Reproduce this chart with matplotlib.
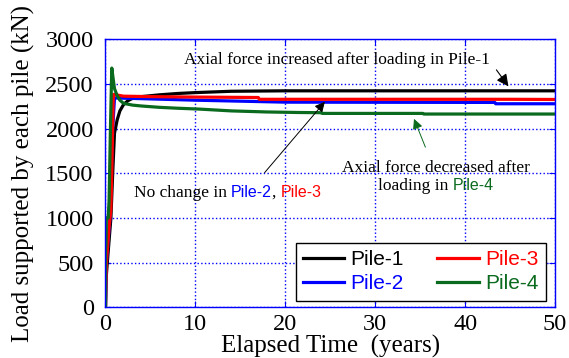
import matplotlib
matplotlib.use('Agg')
import matplotlib.pyplot as plt
from matplotlib.offsetbox import TextArea, HPacker, AnnotationBbox

# Elapsed time (years) and axial load (kN) for each pile
t_pile1 = [0, 0.05, 0.2, 0.4, 0.6, 0.8, 1.0, 1.3, 1.6, 2.0, 2.5, 3.0, 4.0, 6.0, 8.0, 10.0, 14.0, 20.0, 50.0]
p_pile1 = [0, 300, 500, 750, 1000, 1500, 1950, 2100, 2200, 2270, 2315, 2340, 2360, 2380, 2395, 2405, 2420, 2425, 2425]

t_pile2 = [0, 0.1, 0.5, 0.8, 1.0, 3.0, 10.0, 20.0, 43.3, 43.4, 50.0]
p_pile2 = [0, 500, 1000, 2000, 2345, 2340, 2320, 2298, 2295, 2280, 2280]

t_pile3 = [0, 0.1, 0.4, 0.6, 0.7, 0.85, 0.9, 2.0, 5.0, 10.0, 17.0, 17.1, 45.0, 50.0]
p_pile3 = [0, 500, 900, 1100, 1500, 2300, 2385, 2365, 2360, 2355, 2350, 2330, 2330, 2328]

t_pile4 = [0, 0.01, 0.05, 0.1, 0.3, 0.4, 0.55, 0.7, 0.8, 1.0, 1.3, 1.6, 2.0, 3.0, 4.0, 6.0, 8.0,
           10.5, 14.0, 18.0, 21.6, 24.0, 24.1, 35.3, 35.4, 50.0]
p_pile4 = [0, 650, 700, 1000, 1000, 1200, 2000, 2680, 2600, 2450, 2370, 2320, 2285, 2265, 2255, 2240, 2230,
           2220, 2200, 2188, 2182, 2180, 2172, 2172, 2165, 2165]

x_ticks = [0, 10, 20, 30, 40, 50]
y_ticks = [0, 500, 1000, 1500, 2000, 2500, 3000]

GREEN = '#0a6a1e'
serif = 'Liberation Serif'
sans = 'Liberation Sans'

fig = plt.figure(figsize=(5.69, 3.58), dpi=100)
ax = fig.add_axes([0.1854, 0.1416, 0.79, 0.7481])

ax.plot(t_pile1, p_pile1, color='black', lw=2.3, label='Pile-1')
ax.plot(t_pile2, p_pile2, color='blue', lw=2.3, label='Pile-2')
ax.plot(t_pile3, p_pile3, color='red', lw=2.3, label='Pile-3')
ax.plot(t_pile4, p_pile4, color=GREEN, lw=2.3, label='Pile-4')

ax.set_xlim(0, 50)
ax.set_ylim(0, 3000)
ax.set_xticks(x_ticks)
ax.set_yticks(y_ticks)
ax.set_xticklabels([str(v) for v in x_ticks], family=serif, fontsize=17.5)
ax.set_yticklabels([str(v) for v in y_ticks], family=serif, fontsize=17.5)
ax.tick_params(direction='in', length=4, color='blue', top=True, right=True)
ax.tick_params(axis='y', pad=8.5)
ax.tick_params(axis='x', pad=5)
for s in ax.spines.values():
    s.set_color('blue')
    s.set_linewidth(1.0)
ax.grid(True, color='blue', linestyle=':', linewidth=1.0)

ax.set_xlabel('Elapsed Time  (years)', family=serif, fontsize=18, labelpad=0)
ax.set_ylabel('Load supported by each pile (kN)', family=serif, fontsize=18, labelpad=7)

# legend: two columns in the lower right corner
h, l = ax.get_legend_handles_labels()
leg = ax.legend(h, l, ncol=2, loc='lower right', bbox_to_anchor=(0.98, 0.025), borderaxespad=0,
                prop={'family': sans, 'size': 15}, handlelength=2.0, handletextpad=0.3,
                columnspacing=1.6, labelspacing=0.25, fancybox=False, framealpha=1,
                edgecolor='black', borderpad=0.35)
leg.get_frame().set_linewidth(1.0)
for txt, c in zip(leg.get_texts(), ['black', 'blue', 'red', GREEN]):
    txt.set_color(c)

# annotation for Pile-1
ax.text(25.7, 2775, 'Axial force increased after loading in Pile-1', family=serif, fontsize=12.5,
        ha='center', va='center')
ax.annotate('', xy=(45.0, 2450), xytext=(43.3, 2685),
            arrowprops=dict(arrowstyle='-|>', color='black', lw=0.8, mutation_scale=18))

# annotation for Pile-2 / Pile-3
parts = [TextArea('No change in ', textprops=dict(family=serif, fontsize=12.5, color='black')),
         TextArea('Pile-2', textprops=dict(family=sans, fontsize=11.5, color='blue')),
         TextArea(', ', textprops=dict(family=serif, fontsize=12.5, color='black')),
         TextArea('Pile-3', textprops=dict(family=sans, fontsize=11.5, color='red'))]
box = HPacker(children=parts, align='baseline', pad=0, sep=0)
ax.add_artist(AnnotationBbox(box, (13.6, 1283), frameon=False, box_alignment=(0.5, 0.5)))
ax.annotate('', xy=(24.6, 2326), xytext=(17.5, 1485),
            arrowprops=dict(arrowstyle='-|>', color='black', lw=0.7, mutation_scale=15))

# annotation for Pile-4
ax.text(36.8, 1560, 'Axial force decreased after', family=serif, fontsize=12.5, ha='center', va='center')
line2 = [TextArea('loading in ', textprops=dict(family=serif, fontsize=12.5, color='black')),
         TextArea('Pile-4', textprops=dict(family=sans, fontsize=11.5, color=GREEN))]
box2 = HPacker(children=line2, align='baseline', pad=0, sep=0)
ax.add_artist(AnnotationBbox(box2, (36.8, 1360), frameon=False, box_alignment=(0.5, 0.5)))
ax.annotate('', xy=(34.2, 2140), xytext=(35.7, 1765),
            arrowprops=dict(arrowstyle='-|>', color=GREEN, lw=0.7, mutation_scale=15))

fig.savefig('out.png', dpi=100)
